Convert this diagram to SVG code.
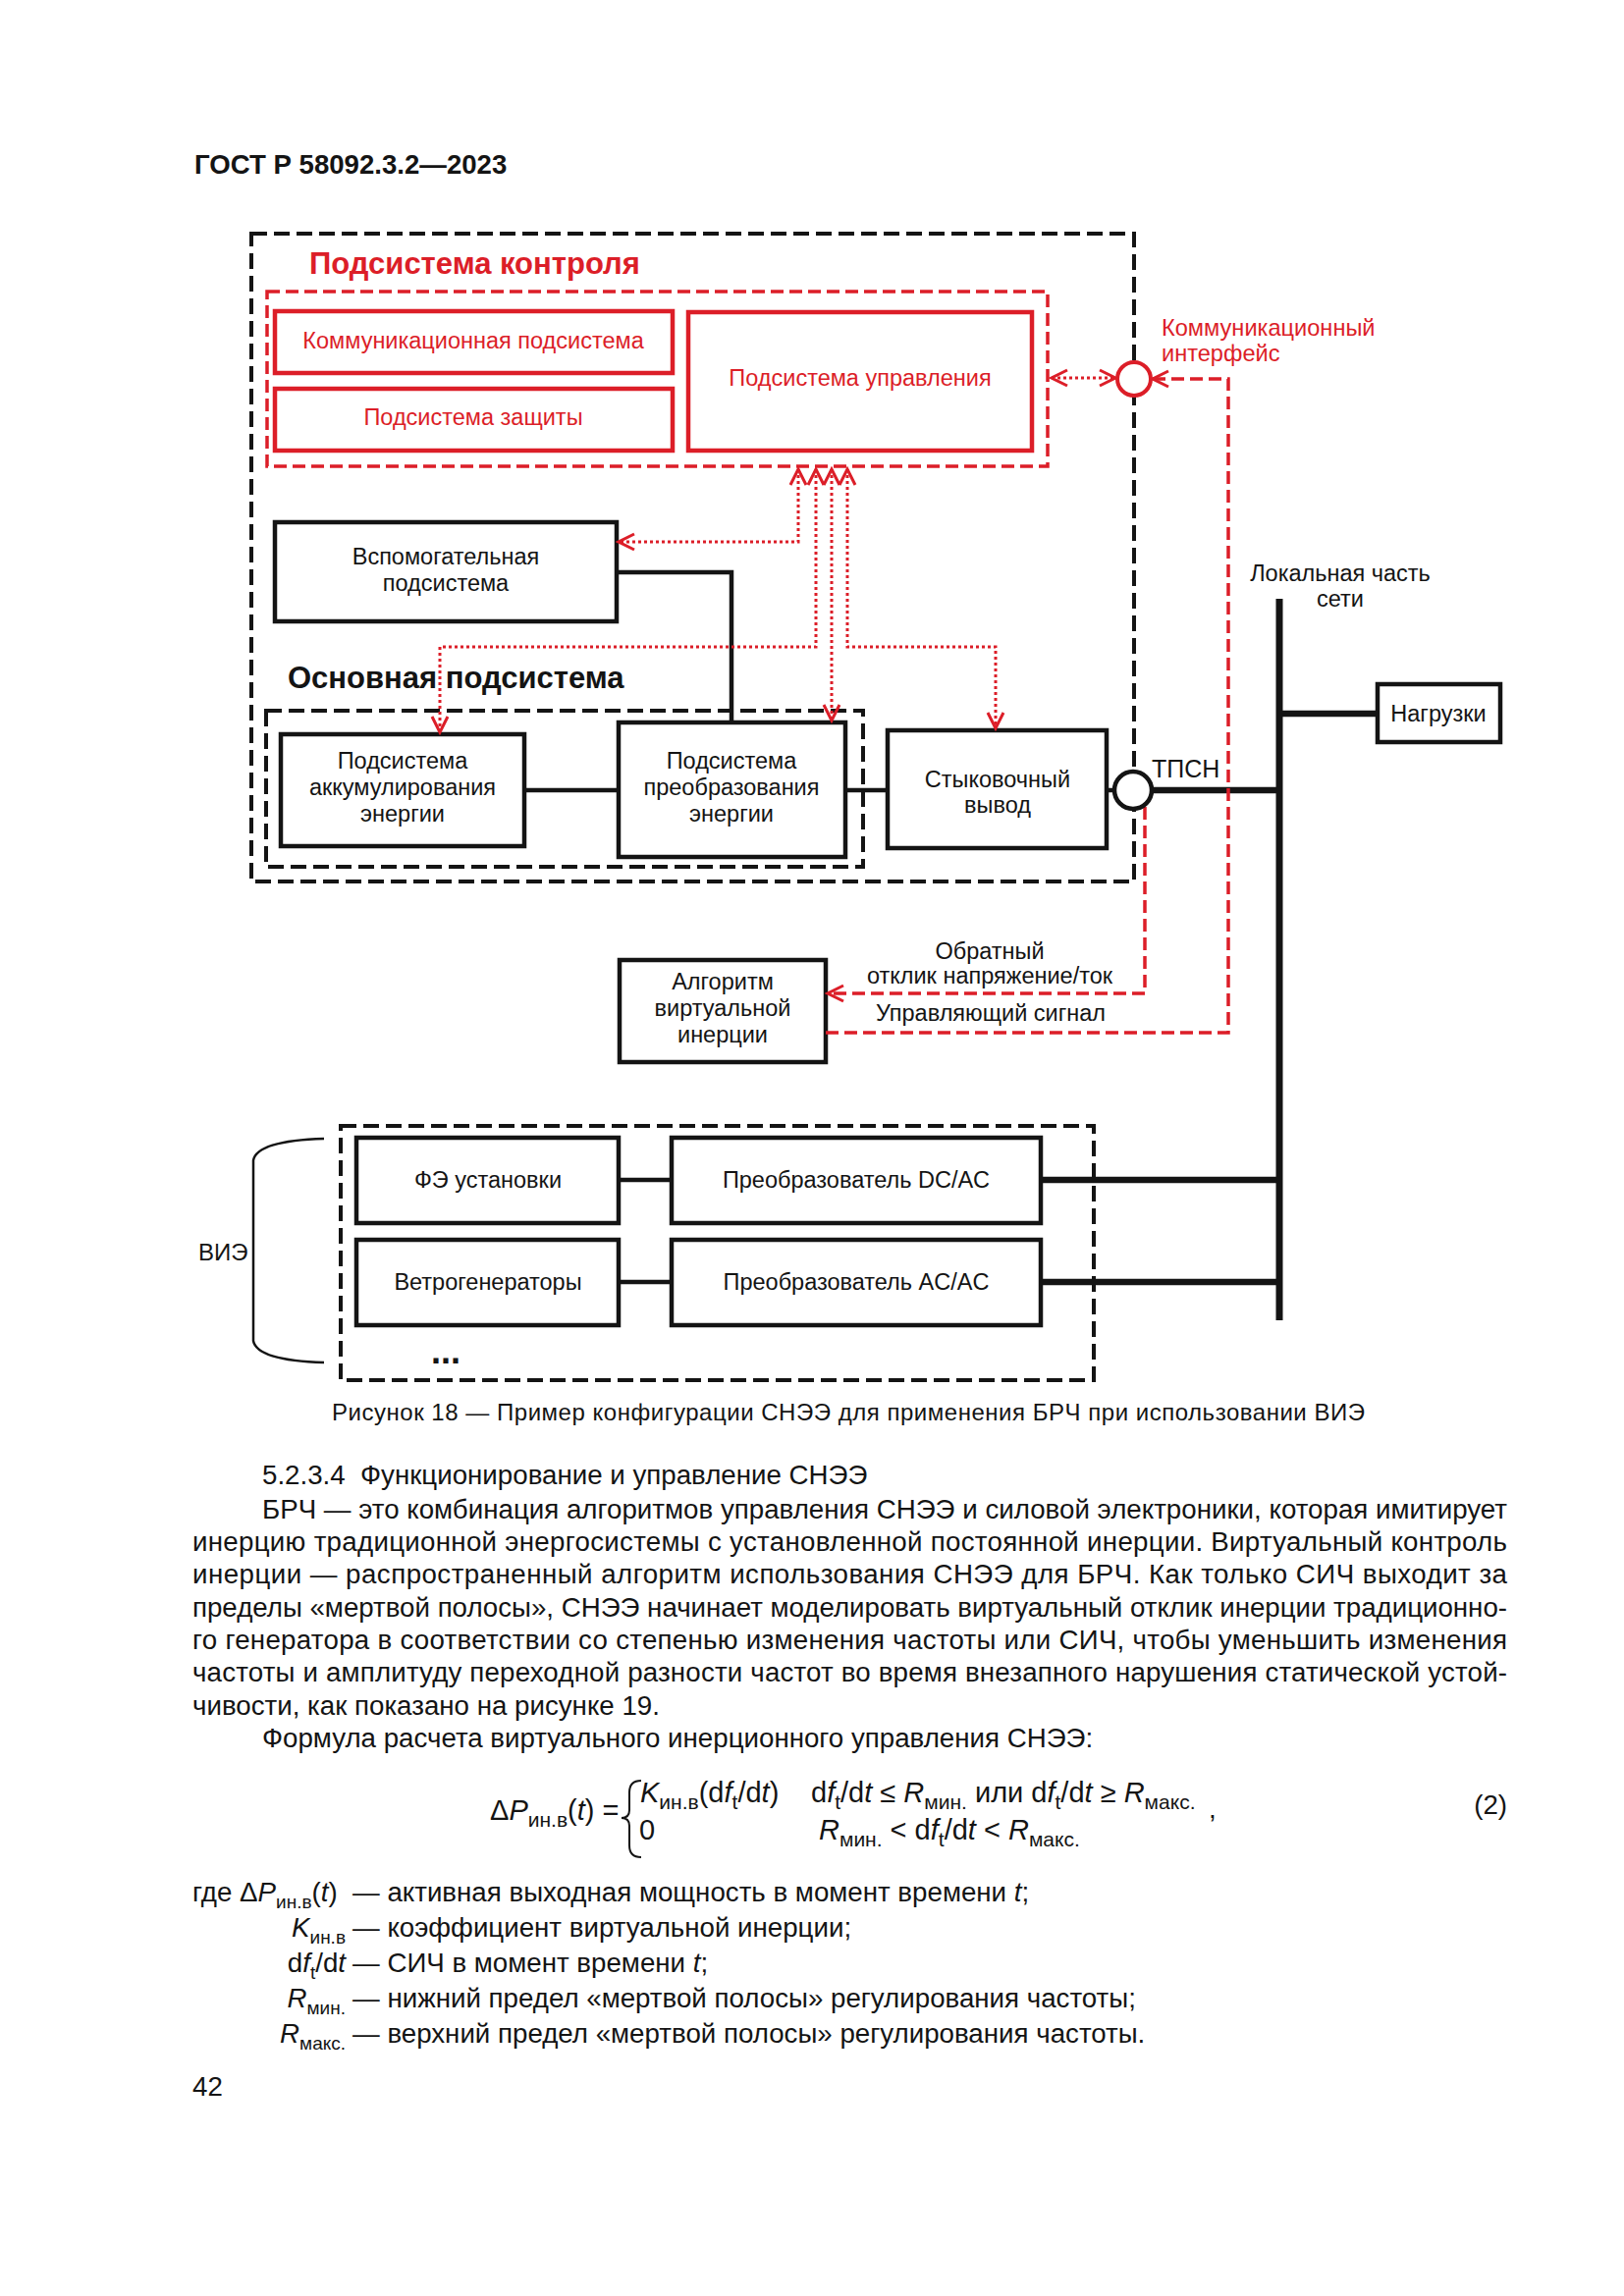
<svg xmlns="http://www.w3.org/2000/svg" width="1654" height="2339" viewBox="0 0 1654 2339">
<style>
text{font-family:"Liberation Sans",Arial,sans-serif;fill:#141414}
.box{fill:#fff;stroke:#141414;stroke-width:4.5}
.rbox{fill:#fff;stroke:#dc1e28;stroke-width:4.5}
.dash{fill:none;stroke:#141414;stroke-width:4;stroke-dasharray:16 7}
.rdash{fill:none;stroke:#dc1e28;stroke-width:3.5;stroke-dasharray:13 6}
.rdot{fill:none;stroke:#dc1e28;stroke-width:3;stroke-dasharray:3 3}
.ln{fill:none;stroke:#141414;stroke-width:4.5}
.thick{fill:none;stroke:#141414;stroke-width:6.5}
.lbl{font-size:23.5px;text-anchor:middle}
.red{fill:#dc1e28}
.body{font-size:27.7px}
.fm{font-size:29px}
.it{font-style:italic}
.sub{font-size:19px}
.fsub{font-size:21px}
</style>
<defs>
<marker id="ar" markerUnits="userSpaceOnUse" markerWidth="22" markerHeight="22" viewBox="0 0 22 22" refX="19" refY="11" orient="auto-start-reverse">
<path d="M3,3 L19,11 L3,19" fill="none" stroke="#dc1e28" stroke-width="3"/>
</marker>
</defs>

<text x="198" y="177" font-size="27.6" font-weight="bold">ГОСТ Р 58092.3.2—2023</text>

<g id="container-ess">
<rect class="dash" x="256" y="238" width="899" height="660"/>
</g>
<g id="control-subsystem">
<text x="315" y="279" font-size="31" font-weight="bold" class="red">Подсистема контроля</text>
<rect class="rdash" x="272" y="297" width="795" height="178" stroke-width="4"/>
</g>
<g id="comm-subsystem">
<rect class="rbox" x="280" y="317" width="405" height="63"/>
<text class="lbl red" x="482" y="355">Коммуникационная подсистема</text>
</g>
<g id="protection-subsystem">
<rect class="rbox" x="280" y="396" width="405" height="63"/>
<text class="lbl red" x="482" y="433">Подсистема защиты</text>
</g>
<g id="management-subsystem">
<rect class="rbox" x="701" y="318" width="350" height="141"/>
<text class="lbl red" x="876" y="393">Подсистема управления</text>
</g>
<g id="aux-subsystem">
<rect class="box" x="280" y="532" width="348" height="101"/>
<text class="lbl" x="454" y="575">Вспомогательная</text>
<text class="lbl" x="454" y="602">подсистема</text>
</g>
<g id="main-subsystem">
<text x="293" y="701" font-size="31" font-weight="bold">Основная подсистема</text>
<rect class="dash" x="271" y="724" width="608" height="159"/>
</g>
<g id="storage-subsystem">
<rect class="box" x="286" y="748" width="248" height="114"/>
<text class="lbl" x="410" y="783">Подсистема</text>
<text class="lbl" x="410" y="810">аккумулирования</text>
<text class="lbl" x="410" y="837">энергии</text>
</g>
<g id="conversion-subsystem">
<rect class="box" x="630" y="736" width="231" height="137"/>
<text class="lbl" x="745" y="783">Подсистема</text>
<text class="lbl" x="745" y="810">преобразования</text>
<text class="lbl" x="745" y="837">энергии</text>
</g>
<g id="docking-output">
<rect class="box" x="904" y="744" width="223" height="120"/>
<text class="lbl" x="1016" y="802">Стыковочный</text>
<text class="lbl" x="1016" y="828">вывод</text>
</g>
<g id="loads">
<rect class="box" x="1403" y="697" width="125" height="59"/>
<text class="lbl" x="1465" y="735">Нагрузки</text>
</g>
<g id="inertia-algorithm">
<rect class="box" x="631" y="978" width="210" height="104"/>
<text class="lbl" x="736" y="1008">Алгоритм</text>
<text class="lbl" x="736" y="1035">виртуальной</text>
<text class="lbl" x="736" y="1062">инерции</text>
</g>
<g id="res-group">
<rect class="dash" x="347" y="1147" width="767" height="259"/>
<path d="M330,1160 Q262,1162 258,1182 L258,1366 Q262,1386 330,1388" fill="none" stroke="#141414" stroke-width="2.5"/>
<text x="202" y="1284" font-size="24">ВИЭ</text>
<text x="439" y="1389" font-size="36" font-weight="bold">...</text>
</g>
<g id="pv">
<rect class="box" x="363" y="1159" width="267" height="87"/>
<text class="lbl" x="497" y="1210">ФЭ установки</text>
</g>
<g id="dcac">
<rect class="box" x="684" y="1159" width="376" height="87"/>
<text class="lbl" x="872" y="1210">Преобразователь DC/AC</text>
</g>
<g id="wind">
<rect class="box" x="363" y="1263" width="267" height="87"/>
<text class="lbl" x="497" y="1314">Ветрогенераторы</text>
</g>
<g id="acac">
<rect class="box" x="684" y="1263" width="376" height="87"/>
<text class="lbl" x="872" y="1314">Преобразователь AC/AC</text>
</g>

<g id="connectors">
<path class="ln" d="M628,583 L745,583 L745,736"/>
<path class="ln" d="M534,805 L630,805 M861,805 L904,805 M1127,805 L1136,805"/>
<path class="thick" d="M1173,805 L1303,805"/>
<path d="M1303,610 L1303,1345" fill="none" stroke="#141414" stroke-width="7"/>
<path class="thick" d="M1303,727 L1403,727"/>
<path class="ln" d="M630,1202 L684,1202 M630,1306 L684,1306"/>
<path class="thick" d="M1060,1202 L1303,1202 M1060,1306 L1303,1306"/>
<path class="rdot" d="M1071,385 L1136,385" marker-start="url(#ar)" marker-end="url(#ar)"/>
<path class="rdot" d="M813,478 L813,552 L630,552" marker-start="url(#ar)" marker-end="url(#ar)"/>
<path class="rdot" d="M831,478 L831,659 L448,659 L448,746" marker-start="url(#ar)" marker-end="url(#ar)"/>
<path class="rdot" d="M847,478 L847,734" marker-start="url(#ar)" marker-end="url(#ar)"/>
<path class="rdot" d="M863,478 L863,659 L1014,659 L1014,742" marker-start="url(#ar)" marker-end="url(#ar)"/>
<path class="rdash" d="M1174,386 L1251,386 L1251,1052 L841,1052" marker-start="url(#ar)"/>
<path class="rdash" d="M1166,822 L1166,1012 L843,1012" marker-end="url(#ar)"/>
</g>

<g id="comm-interface">
<circle cx="1155" cy="386" r="17" fill="#fff" stroke="#dc1e28" stroke-width="4"/>
<text x="1183" y="342" font-size="23.6" class="red">Коммуникационный</text>
<text x="1183" y="368" font-size="23.6" class="red">интерфейс</text>
</g>
<g id="pcc">
<circle cx="1154" cy="805" r="19" fill="#fff" stroke="#141414" stroke-width="4.5"/>
<text x="1173" y="792" font-size="25">ТПСН</text>
</g>
<g id="local-grid">
<text class="lbl" x="1365" y="592" font-size="24">Локальная часть</text>
<text class="lbl" x="1365" y="618" font-size="24">сети</text>
</g>
<g id="signal-labels">
<text class="lbl" x="1008" y="977">Обратный</text>
<text class="lbl" x="1008" y="1002">отклик напряжение/ток</text>
<text class="lbl" x="1009" y="1040">Управляющий сигнал</text>
</g>

<text x="338" y="1447" font-size="24" textLength="1052" lengthAdjust="spacing">Рисунок 18 — Пример конфигурации СНЭЭ для применения БРЧ при использовании ВИЭ</text>

<g id="section-text">
<text class="body" x="267" y="1512">5.2.3.4&#160; Функционирование и управление СНЭЭ</text>
<text class="body" x="267" y="1547" textLength="1268" lengthAdjust="spacing">БРЧ — это комбинация алгоритмов управления СНЭЭ и силовой электроники, которая имитирует</text>
<text class="body" x="196" y="1580" textLength="1339" lengthAdjust="spacing">инерцию традиционной энергосистемы с установленной постоянной инерции. Виртуальный контроль</text>
<text class="body" x="196" y="1613" textLength="1339" lengthAdjust="spacing">инерции — распространенный алгоритм использования СНЭЭ для БРЧ. Как только СИЧ выходит за</text>
<text class="body" x="196" y="1647" textLength="1339" lengthAdjust="spacing">пределы «мертвой полосы», СНЭЭ начинает моделировать виртуальный отклик инерции традиционно-</text>
<text class="body" x="196" y="1680" textLength="1339" lengthAdjust="spacing">го генератора в соответствии со степенью изменения частоты или СИЧ, чтобы уменьшить изменения</text>
<text class="body" x="196" y="1713" textLength="1339" lengthAdjust="spacing">частоты и амплитуду переходной разности частот во время внезапного нарушения статической устой-</text>
<text class="body" x="196" y="1747">чивости, как показано на рисунке 19.</text>
<text class="body" x="267" y="1780">Формула расчета виртуального инерционного управления СНЭЭ:</text>
</g>

<g id="formula">
<text class="fm" x="499" y="1854">Δ<tspan class="it">P</tspan><tspan class="fsub" dy="7">ин.в</tspan><tspan dy="-7">(</tspan><tspan class="it">t</tspan>) =</text>
<path d="M653,1814 Q641,1814 641,1826 L641,1844 Q641,1852 633,1852 Q641,1852 641,1860 L641,1880 Q641,1892 653,1892" fill="none" stroke="#141414" stroke-width="2"/>
<text class="fm" x="652" y="1836"><tspan class="it">K</tspan><tspan class="fsub" dy="7">ин.в</tspan><tspan dy="-7">(d</tspan><tspan class="it">f</tspan><tspan class="fsub" dy="7">t</tspan><tspan dy="-7">/d</tspan><tspan class="it">t</tspan>)</text>
<text class="fm" x="826" y="1836">d<tspan class="it">f</tspan><tspan class="fsub" dy="7">t</tspan><tspan dy="-7">/d</tspan><tspan class="it">t</tspan> ≤ <tspan class="it">R</tspan><tspan class="fsub" dy="7">мин.</tspan><tspan dy="-7"> или d</tspan><tspan class="it">f</tspan><tspan class="fsub" dy="7">t</tspan><tspan dy="-7">/d</tspan><tspan class="it">t</tspan> ≥ <tspan class="it">R</tspan><tspan class="fsub" dy="7">макс.</tspan></text>
<text class="fm" x="651" y="1874">0</text>
<text class="fm" x="834" y="1874"><tspan class="it">R</tspan><tspan class="fsub" dy="7">мин.</tspan><tspan dy="-7"> &lt; d</tspan><tspan class="it">f</tspan><tspan class="fsub" dy="7">t</tspan><tspan dy="-7">/d</tspan><tspan class="it">t</tspan> &lt; <tspan class="it">R</tspan><tspan class="fsub" dy="7">макс.</tspan></text>
<text class="body" x="1231" y="1852">,</text>
<text class="body" x="1535" y="1848" text-anchor="end">(2)</text>
</g>

<g id="legend">
<text class="body" x="196" y="1937">где Δ<tspan class="it">P</tspan><tspan class="sub" dy="7">ин.в</tspan><tspan dy="-7">(</tspan><tspan class="it">t</tspan>)</text>
<text class="body" x="359" y="1937">— активная выходная мощность в момент времени <tspan class="it">t</tspan>;</text>
<text class="body" x="352" y="1973" text-anchor="end"><tspan class="it">K</tspan><tspan class="sub" dy="7">ин.в</tspan></text>
<text class="body" x="359" y="1973">— коэффициент виртуальной инерции;</text>
<text class="body" x="352" y="2009" text-anchor="end">d<tspan class="it">f</tspan><tspan class="sub" dy="7">t</tspan><tspan dy="-7">/d</tspan><tspan class="it">t</tspan></text>
<text class="body" x="359" y="2009">— СИЧ в момент времени <tspan class="it">t</tspan>;</text>
<text class="body" x="352" y="2045" text-anchor="end"><tspan class="it">R</tspan><tspan class="sub" dy="7">мин.</tspan></text>
<text class="body" x="359" y="2045">— нижний предел «мертвой полосы» регулирования частоты;</text>
<text class="body" x="352" y="2081" text-anchor="end"><tspan class="it">R</tspan><tspan class="sub" dy="7">макс.</tspan></text>
<text class="body" x="359" y="2081">— верхний предел «мертвой полосы» регулирования частоты.</text>
<text class="body" x="196" y="2135">42</text>
</g>
</svg>
